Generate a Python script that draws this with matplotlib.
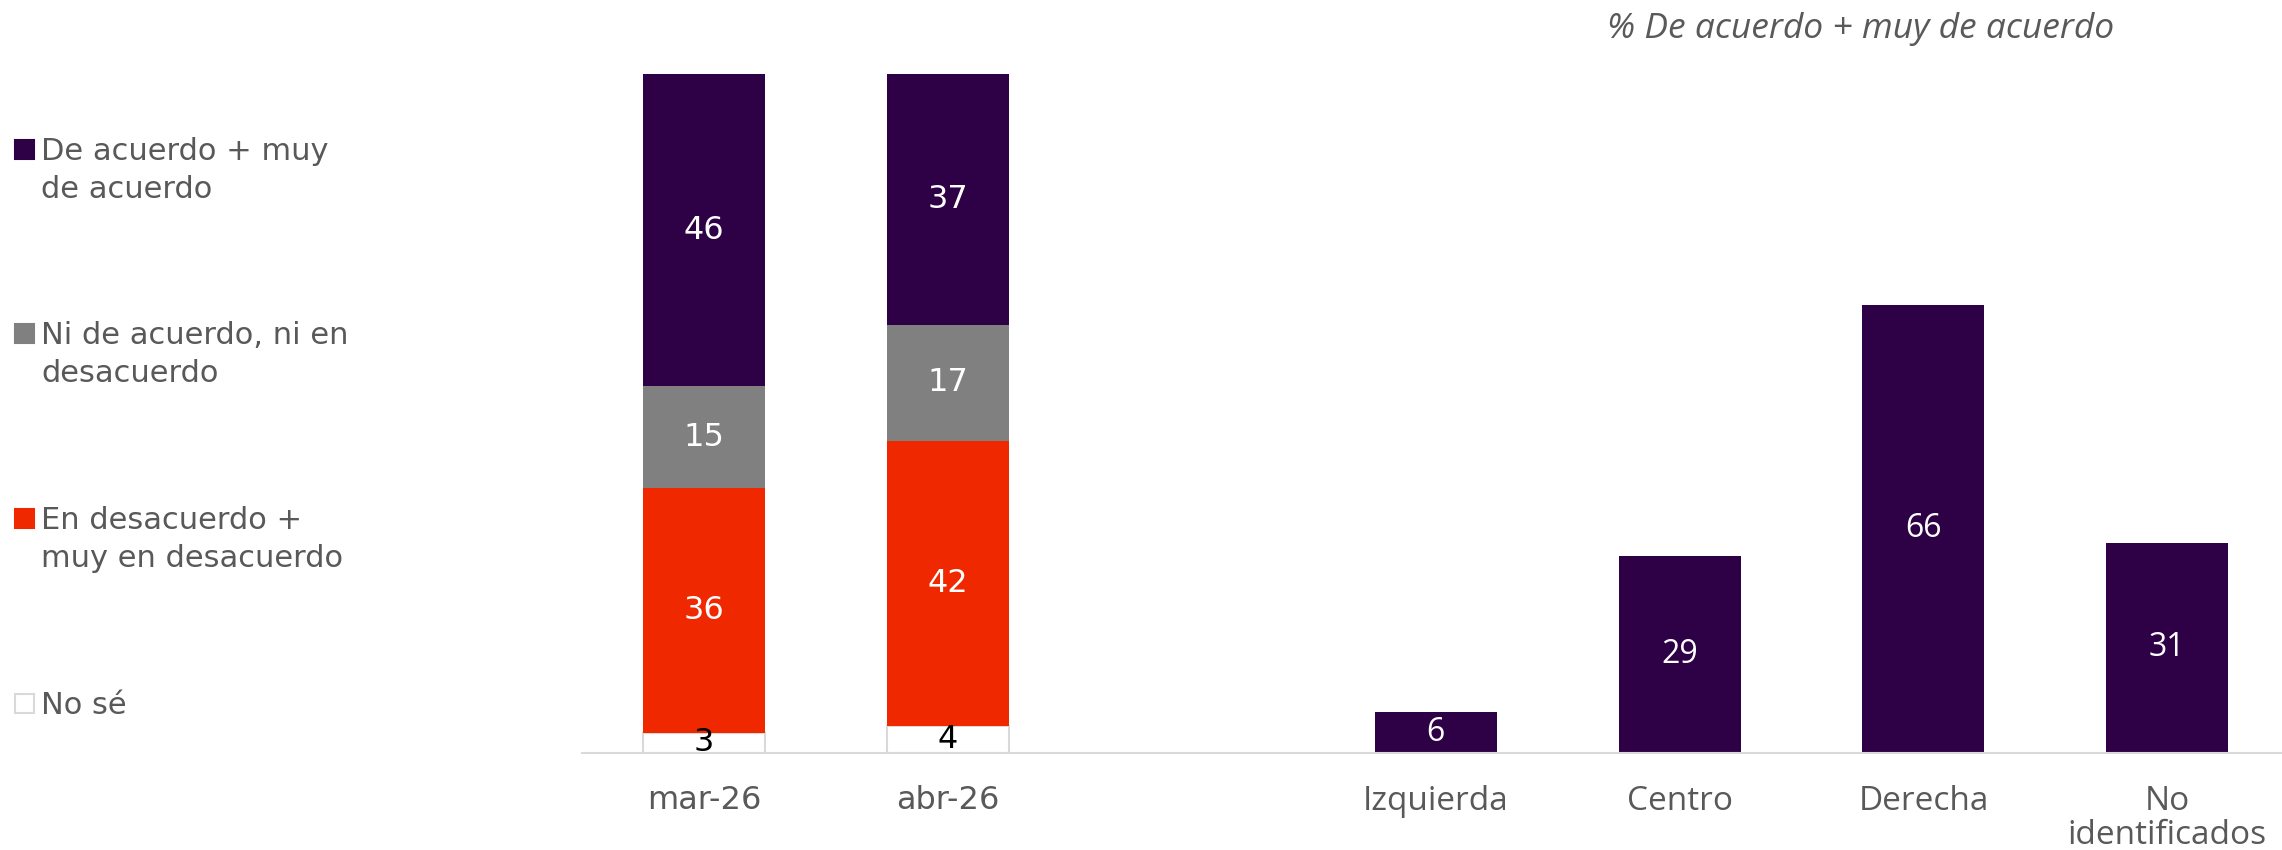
import matplotlib
matplotlib.use("Agg")
import matplotlib.pyplot as plt
from matplotlib.patches import Rectangle

# ---- data ----
periods = ["mar-26", "abr-26"]
no_se = [3, 4]
desacuerdo = [36, 42]
ni_ni = [15, 17]
acuerdo = [46, 37]

groups = ["Izquierda", "Centro", "Derecha", "No\nidentificados"]
acuerdo_group = [6, 29, 66, 31]

legend_labels = ["De acuerdo + muy\nde acuerdo",
                 "Ni de acuerdo, ni en\ndesacuerdo",
                 "En desacuerdo +\nmuy en desacuerdo",
                 "No sé"]
right_title = "% De acuerdo + muy de acuerdo"

# ---- style ----
PURPLE = "#2e0045"
GREY = "#808080"
RED = "#f02800"
EDGE = "#d9d9d9"
TXT = "#595959"
W, H = 2282, 850

fig = plt.figure(figsize=(W / 100, H / 100), dpi=100)
ax_left = 582 / W
ax_bottom = 1 - 753 / H
ax_top = 1 - 74 / H
ax = fig.add_axes([ax_left, ax_bottom, 1 - ax_left, ax_top - ax_bottom])

xp = list(range(len(periods)))
xg = [len(periods) + 1 + i for i in range(len(groups))]
bw = 0.5

# stacked bars
b1 = ax.bar(xp, no_se, bw, color="white", edgecolor=EDGE, linewidth=1.5)
bottoms = list(no_se)
b2 = ax.bar(xp, desacuerdo, bw, bottom=bottoms, color=RED, linewidth=0)
bottoms = [a + b for a, b in zip(bottoms, desacuerdo)]
b3 = ax.bar(xp, ni_ni, bw, bottom=bottoms, color=GREY, linewidth=0)
bottoms = [a + b for a, b in zip(bottoms, ni_ni)]
b4 = ax.bar(xp, acuerdo, bw, bottom=bottoms, color=PURPLE, linewidth=0)

ax.bar_label(b1, labels=[str(v) for v in no_se], label_type="center",
             color="black", fontsize=23)
for bars, vals in ((b2, desacuerdo), (b3, ni_ni), (b4, acuerdo)):
    ax.bar_label(bars, labels=[str(v) for v in vals], label_type="center",
                 color="white", fontsize=23)

# group bars
bg = ax.bar(xg, acuerdo_group, bw, color=PURPLE, linewidth=0)
ax.bar_label(bg, labels=[str(v) for v in acuerdo_group], label_type="center",
             color="white", fontsize=23, family="Open Sans")

ax.set_xlim(-0.5, 6.47)
ax.set_ylim(0, 100)
ax.set_xticks(xp + xg)
ax.set_xticklabels(periods + groups)
for i, lab in enumerate(ax.get_xticklabels()):
    lab.set_color(TXT)
    lab.set_linespacing(1.05)
    if i >= len(periods):
        lab.set_family("Open Sans")
        lab.set_fontsize(24)
    else:
        lab.set_fontsize(23)
ax.tick_params(axis="x", length=0, pad=23)
ax.set_yticks([])
for s in ("top", "right", "left"):
    ax.spines[s].set_visible(False)
ax.spines["bottom"].set_color(EDGE)
ax.spines["bottom"].set_linewidth(1.5)

# title for the right panel
fig.text(2114 / W, 1 - 29 / H, right_title, ha="right", va="center",
         fontsize=25.5, style="italic", color=TXT, family="Open Sans")

# legend (manual)
leg_colors = [PURPLE, GREY, RED, "white"]
leg_y = [149, 333, 518, 703]
for lab, col, y in zip(legend_labels, leg_colors, leg_y):
    fig.patches.append(Rectangle((15 / W, 1 - (y + 9.5) / H), 19 / W, 19 / H,
                                 transform=fig.transFigure, facecolor=col,
                                 edgecolor=EDGE if col == "white" else col,
                                 linewidth=1.5))
    fig.text(41 / W, 1 - (y - 12) / H, lab, ha="left", va="top",
             fontsize=22, color=TXT, linespacing=1.4)

fig.savefig("out.png", dpi=100)
